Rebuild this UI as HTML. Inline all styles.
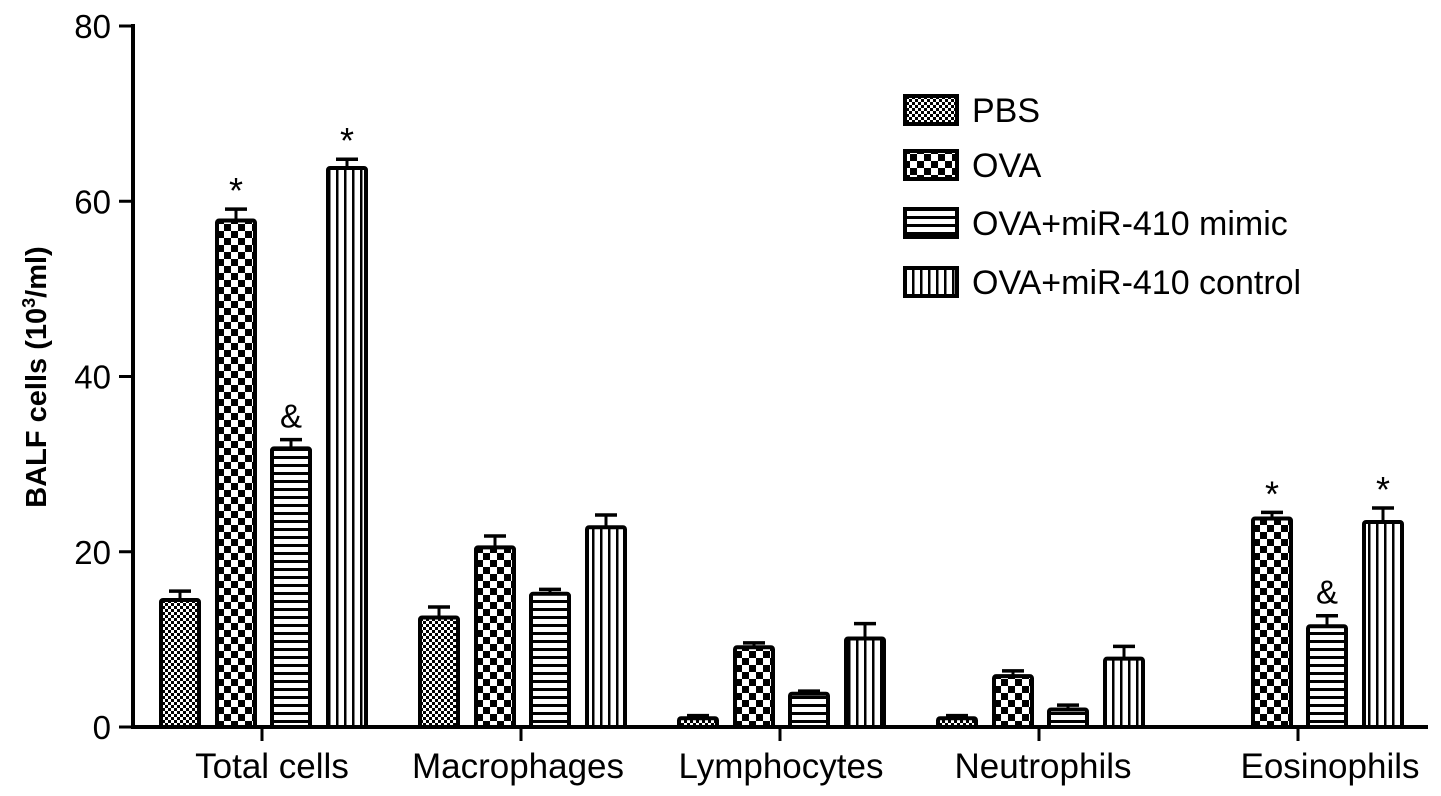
<!DOCTYPE html>
<html><head><meta charset="utf-8"><style>
body{margin:0;background:#fff;}
svg{display:block;font-family:"Liberation Sans",Arial,sans-serif;}
</style></head><body>
<svg id="chart" width="1441" height="796" viewBox="0 0 1441 796">
<defs>
<pattern id="pPBS" width="6" height="6" patternUnits="userSpaceOnUse"><rect width="6" height="6" fill="#fff"/><rect width="3" height="3" fill="#000"/><rect x="3" y="3" width="3" height="3" fill="#000"/></pattern>
<pattern id="pOVA" width="14" height="14" patternUnits="userSpaceOnUse"><rect width="14" height="14" fill="#fff"/><rect width="7" height="7" fill="#000"/><rect x="7" y="7" width="7" height="7" fill="#000"/></pattern>
<pattern id="pMim" width="8" height="8" patternUnits="userSpaceOnUse"><rect width="8" height="8" fill="#fff"/><rect y="0" width="8" height="3" fill="#000"/></pattern>
<pattern id="pCtl" width="8" height="8" patternUnits="userSpaceOnUse"><rect width="8" height="8" fill="#fff"/><rect x="0" width="2.5" height="8" fill="#000"/></pattern>
</defs>
<g id="plot"></g>
</svg>
<script>
const categories=["Total cells","Macrophages","Lymphocytes","Neutrophils","Eosinophils"];
const seriesNames=["PBS","OVA","OVA+miR-410 mimic","OVA+miR-410 control"];
const pbs=[14.5,12.5,1,1,0];
const ova=[57.8,20.5,9.1,5.8,23.8];
const mimic=[31.8,15.2,3.8,2,11.5];
const control=[63.8,22.8,10.1,7.8,23.4];
const pbsErr=[1,1.2,0.3,0.3,0];
const ovaErr=[1.3,1.3,0.5,0.6,0.7];
const mimicErr=[1,0.5,0.3,0.5,1.2];
const controlErr=[1,1.4,1.7,1.4,1.6];
const annotations=[["","*","&","*"],["","","",""],["","","",""],["","","",""],["","*","&","*"]];
const yTicks=[0,20,40,60,80];

const NS="http://www.w3.org/2000/svg";
const g=document.getElementById('plot');
const y0=727,yTop=26,yMax=80;
const y=v=>y0-(v/yMax)*(y0-yTop);
const tickX=i=>262+i*259;
const labelShift=[10,-3,1,4,32];
const barOff=[-103,-47,8,64], bw=42;
const fills=["url(#pPBS)","url(#pOVA)","url(#pMim)","url(#pCtl)"];
const series=[pbs,ova,mimic,control], errs=[pbsErr,ovaErr,mimicErr,controlErr];
function el(t,a,txt){const e=document.createElementNS(NS,t);for(const k in a)e.setAttribute(k,a[k]);if(txt!==undefined)e.textContent=txt;g.appendChild(e);return e;}

let ax=el('line',{x1:133,y1:24,x2:133,y2:729,stroke:'#000','stroke-width':4});


let bx=el('line',{x1:131,y1:727,x2:1428,y2:727,stroke:'#000','stroke-width':4});


yTicks.forEach(v=>{
  const t=el('line',{x1:119,y1:y(v),x2:133,y2:y(v),stroke:'#000','stroke-width':3});
  
  
  const l=el('text',{x:111,y:y(v)+12,'text-anchor':'end','font-size':33},String(v));
  
  
});
const yt=el('text',{x:0,y:0,transform:'translate(46,377) rotate(-90)','text-anchor':'middle','font-size':29,'font-weight':'bold'});
yt.innerHTML='BALF cells (10<tspan dy="-11" font-size="18">3</tspan><tspan dy="11">/ml)</tspan>';



categories.forEach((c,i)=>{
  const tx=tickX(i);
  const tk=el('line',{x1:tx,y1:727,x2:tx,y2:741,stroke:'#000','stroke-width':3});
  
  
  const lb=el('text',{x:tx+labelShift[i],y:778,'text-anchor':'middle','font-size':35},c);
  
  
  series.forEach((s,j)=>{
    const v=s[i], e=errs[j][i], x=tx+barOff[j], cx=x+bw/2;
    if(v>0){
      if(e>0){
        const el1=el('line',{x1:cx,y1:y(v),x2:cx,y2:y(v+e),stroke:'#000','stroke-width':3});
        
        
        const cap=el('line',{x1:cx-11,y1:y(v+e),x2:cx+11,y2:y(v+e),stroke:'#000','stroke-width':3.5});
        
        
      }
      const r=el('rect',{x:x+2,y:y(v),width:bw-4,height:y0-y(v),fill:fills[j],stroke:'#000','stroke-width':4,rx:2});
      
      
    }
    const a=annotations[i][j];
    if(a){
      const at=el('text',{x:cx,y:y(v+e)-(a=='*'?6:12),'text-anchor':'middle','font-size':a=='*'?36:33},a);
      
      
    }
  });
});

const legY=[96,151,209,268];
seriesNames.forEach((n,j)=>{
  const sw=el('rect',{x:905,y:legY[j],width:52,height:28,fill:fills[j],stroke:'#000','stroke-width':4});
  
  
  const t=el('text',{x:972,y:legY[j]+26,'font-size':34},n);
  
  
});
</script>
</body></html>
